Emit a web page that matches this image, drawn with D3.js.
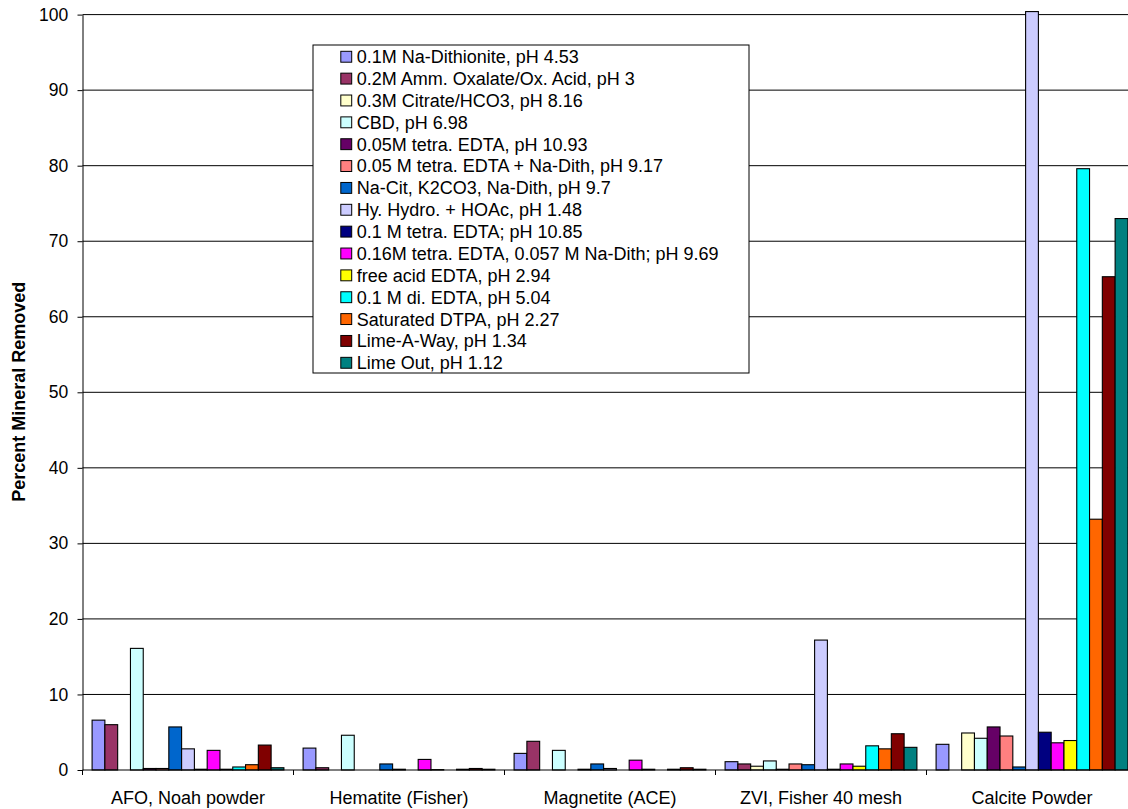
<!DOCTYPE html>
<html>
<head>
<meta charset="utf-8">
<script src="https://cdn.jsdelivr.net/npm/d3@7"></script>
<style>
  html, body { margin: 0; padding: 0; background: #fff; }
  svg { display: block; }
  text { font-family: "Liberation Sans", Arial, sans-serif; fill: #000; }
</style>
</head>
<body>
<div id="chart"></div>
<script>
// ---------- data ----------
const categories = ["AFO, Noah powder", "Hematite (Fisher)", "Magnetite (ACE)", "ZVI, Fisher 40 mesh", "Calcite Powder"];

const seriesNames = [
  "0.1M Na-Dithionite, pH 4.53",
  "0.2M Amm. Oxalate/Ox. Acid, pH 3",
  "0.3M Citrate/HCO3, pH 8.16",
  "CBD, pH 6.98",
  "0.05M tetra. EDTA, pH 10.93",
  "0.05 M tetra. EDTA + Na-Dith, pH 9.17",
  "Na-Cit, K2CO3, Na-Dith, pH 9.7",
  "Hy. Hydro. + HOAc, pH 1.48",
  "0.1 M tetra. EDTA; pH 10.85",
  "0.16M tetra. EDTA, 0.057 M Na-Dith; pH 9.69",
  "free acid EDTA, pH 2.94",
  "0.1 M di. EDTA, pH 5.04",
  "Saturated DTPA, pH 2.27",
  "Lime-A-Way, pH 1.34",
  "Lime Out, pH 1.12"
];

// values per category, in series order
const afoValues       = [6.6, 6.0, 0, 16.1, 0.2, 0.2, 5.7, 2.8, 0.1, 2.6, 0.1, 0.4, 0.7, 3.3, 0.3];
const hematiteValues  = [2.9, 0.3, 0, 4.6, 0, 0, 0.8, 0.1, 0, 1.4, 0.05, 0, 0.1, 0.2, 0.1];
const magnetiteValues = [2.2, 3.8, 0, 2.6, 0, 0.1, 0.8, 0.2, 0, 1.3, 0.1, 0, 0.1, 0.3, 0.1];
const zviValues       = [1.1, 0.8, 0.5, 1.2, 0.1, 0.8, 0.7, 17.2, 0.1, 0.8, 0.5, 3.2, 2.8, 4.8, 3.0];
const calciteValues   = [3.4, 0, 4.9, 4.2, 5.7, 4.5, 0.4, 100.4, 5.0, 3.6, 3.9, 79.6, 33.2, 65.3, 73.0];

const yTicks = [0, 10, 20, 30, 40, 50, 60, 70, 80, 90, 100];
const yTitle = "Percent Mineral Removed";

// ---------- styles ----------
const colors = ["#9999FF", "#993366", "#FFFFCC", "#CCFFFF", "#660066", "#FF8080", "#0066CC", "#CCCCFF",
                "#000080", "#FF00FF", "#FFFF00", "#00FFFF", "#FF6600", "#800000", "#008080"];

const valuesByCategory = [afoValues, hematiteValues, magnetiteValues, zviValues, calciteValues];
const table = [];
categories.forEach((c, ci) => {
  valuesByCategory[ci].forEach((v, si) => table.push({ cat: c, s: si, v: v }));
});

const W = 1128, H = 809;
const FS = 18;

const svg = d3.select("#chart").append("svg").attr("width", W).attr("height", H);
svg.append("rect").attr("width", W).attr("height", H).attr("fill", "#fff");

const plotL = 82.5, catW = 211;
const y = d3.scaleLinear().domain([0, 100]).range([770, 14.6]);
const x0 = d3.scaleBand().domain(categories).range([plotL, plotL + categories.length * catW]);
const x1 = d3.scaleBand().domain(d3.range(seriesNames.length)).range([0, x0.bandwidth()])
  .paddingInner(0).paddingOuter(0.75);

// gridlines
svg.append("g").selectAll("line").data(yTicks.filter(d => d > 0)).join("line")
  .attr("x1", plotL).attr("x2", x0.range()[1])
  .attr("y1", d => y(d)).attr("y2", d => y(d))
  .attr("stroke", "#000").attr("stroke-width", 1);

// bars
svg.append("g").selectAll("rect").data(table).join("rect")
  .attr("x", d => x0(d.cat) + x1(d.s))
  .attr("width", x1.bandwidth())
  .attr("y", d => y(d.v))
  .attr("height", d => y(0) - y(d.v))
  .attr("fill", d => colors[d.s])
  .attr("stroke", "#000").attr("stroke-width", 1.1);

// y axis
const yAxis = svg.append("g").attr("transform", `translate(${plotL},0)`)
  .call(d3.axisLeft(y).tickValues(yTicks).tickSize(5).tickSizeOuter(0).tickPadding(9.2).tickFormat(d3.format("d")));
yAxis.select(".domain").attr("stroke", "#000");
yAxis.selectAll(".tick line").attr("stroke", "#000");
yAxis.selectAll("text").attr("font-size", 17.5).attr("font-family", "Liberation Sans, Arial, sans-serif");

// x axis
svg.append("line").attr("x1", plotL).attr("x2", x0.range()[1]).attr("y1", y(0)).attr("y2", y(0))
  .attr("stroke", "#000");
const bounds = categories.map(c => x0(c)).concat([x0.range()[1]]);
svg.append("g").selectAll("line").data(bounds).join("line")
  .attr("x1", d => d).attr("x2", d => d).attr("y1", y(0)).attr("y2", y(0) + 5)
  .attr("stroke", "#000");
svg.append("g").selectAll("text").data(categories).join("text")
  .attr("x", d => x0(d) + x0.bandwidth() / 2).attr("y", 803.5)
  .attr("text-anchor", "middle").attr("font-size", FS).text(d => d);

// y title
svg.append("text")
  .attr("transform", "translate(18.3,391.7) rotate(-90)")
  .attr("text-anchor", "middle").attr("dy", "0.35em")
  .attr("font-size", 18).attr("font-weight", "bold").text(yTitle);

// legend
const lg = svg.append("g");
lg.append("rect").attr("x", 313).attr("y", 45).attr("width", 436).attr("height", 328)
  .attr("fill", "#fff").attr("stroke", "#000").attr("stroke-width", 1);
const rowY = i => 56.7 + i * 21.86;
lg.selectAll("rect.sw").data(seriesNames).join("rect").attr("class", "sw")
  .attr("x", 340.8).attr("y", (d, i) => rowY(i) - 5.4).attr("width", 10.9).attr("height", 10.9)
  .attr("fill", (d, i) => colors[i]).attr("stroke", "#000").attr("stroke-width", 1);
lg.selectAll("text").data(seriesNames).join("text")
  .attr("x", 356.7).attr("y", d => 0).attr("transform", (d, i) => `translate(0,${rowY(i)})`)
  .attr("dy", "0.36em").attr("font-size", FS).text(d => d);
</script>
</body>
</html>
